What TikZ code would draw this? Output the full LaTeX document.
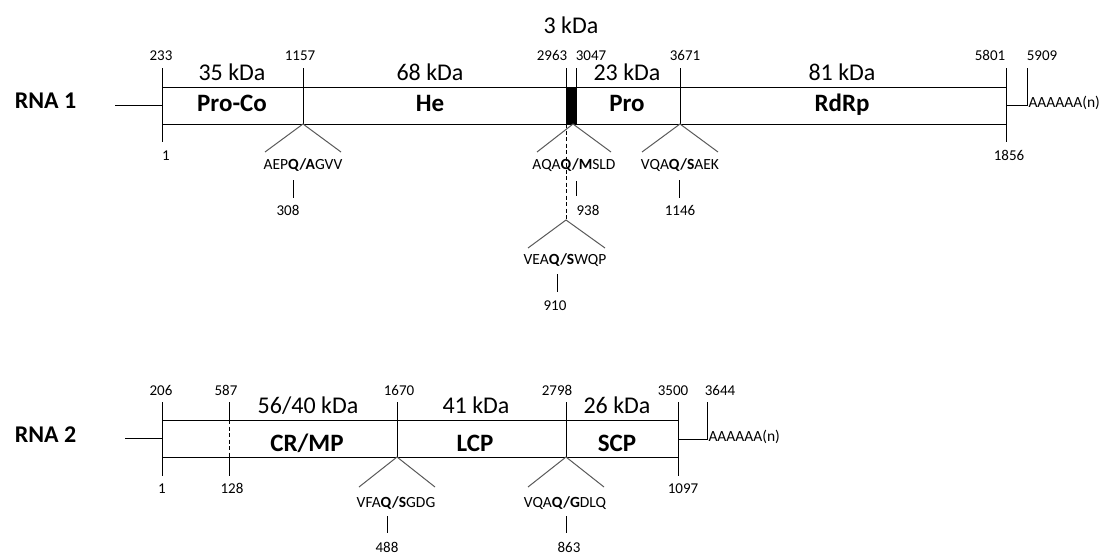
\documentclass[tikz,border=0pt]{standalone}
\usepackage{fontspec}
\setmainfont{Carlito}
\usetikzlibrary{positioning}

\begin{document}
\begin{tikzpicture}[x=1pt, y=-1pt, line width=1pt,
    num/.style={anchor=base, inner sep=0.5pt, font=\fontsize{15}{17}\selectfont},
    kda/.style={anchor=base, inner sep=0pt, font=\fontsize{24}{28}\selectfont},
    prot/.style={anchor=base, font=\fontsize{25}{28}\selectfont\bfseries},
    rna/.style={anchor=base west, font=\fontsize{24}{28}\selectfont\bfseries},
    site/.style={anchor=base, inner sep=1pt, font=\fontsize{15.5}{18}\selectfont},
    arm/.style={gray!70!black},
    cut/.style={dash pattern=on 4pt off 2.5pt}]

\useasboundingbox (0,0) rectangle (1107,554);

%%%%%%%%%% RNA 1 %%%%%%%%%%

% Label and 5' end
\node[rna] (rna1) at (11,108) {RNA 1};
\draw (115,105) -- (162,105);

% Draw the box
\draw (162,87) rectangle (1006,124);
\fill (566,87) rectangle (576,124);

% Start and end ticks
\draw (162,68) -- (162,142);
\draw (1006,68) -- (1006,142);

% Inner ticks
\foreach \x in {303, 566, 576, 680}
{
    \draw (\x,68) -- (\x,124);
}

% Positions on top
\foreach \x/\label in {161/233, 300/1157, 552/2963, 591/3047, 685/3671, 990/5801, 1042/5909}
{
    \node[num] (a\label) at (\x,60.5) {\label};
}

% Positions below
\node[num] (a1) at (166,160) {1};
\node[num] (a1856) at (1009,160) {1856};

% Poly-A tail
\draw (1006,105) -- (1027,105) -- (1027,68);
\node[site, anchor=base west] (polyA1) at (1027,107.5) {AAAAAA(n)};

% Proteins and sizes
\foreach \x/\kda/\name/\id in {232/35/Pro-Co/proco, 430/68/He/he, 627/23/Pro/pro, 842/81/RdRp/rdrp}
{
    \node[kda] (k\id) at (\x,80) {\kda{} kDa};
    \node[prot] (\id) at (\x,111) {\name};
}
\node[kda] (kvpg) at (571,33) {3 kDa};

% Cleavage sites (apex, stem, number)
\foreach \x/\sx/\nx/\pre/\c/\post/\num in {303/293/288/AEP/A/GVV/308, 680/679/680/VQA/S/AEK/1146}
{
    \draw[arm] (\x-38,152) -- (\x,124) -- (\x+38,152);
    \node[site] (s\num) at (\x,169.5) {\pre\textbf{Q/\c}\post};
    \draw (\sx,180) -- (\sx,198);
    \node[num] (n\num) at (\nx,215) {\num};
}

% Sites round the 3 kDa part
\draw[arm] (537,152) -- (573,124) -- (611,152);
\node[site] (s938) at (574,169.5) {AQA\textbf{Q/M}SLD};
\draw (576,181) -- (576,196);
\node[num] (n938) at (588,215) {938};

\draw[cut] (566,124) -- (566,220);
\draw[arm] (528,248) -- (566,220) -- (605,248);
\node[site] (s910) at (565,264) {VEA\textbf{Q/S}WQP};
\draw (557,274) -- (557,292);
\node[num] (n910) at (555,310) {910};

%%%%%%%%%% RNA 2 %%%%%%%%%%

% Label and 5' end
\node[rna] (rna2) at (11,442) {RNA 2};
\draw (125,438) -- (162,438);

% Draw the box
\draw (162,420) rectangle (678,457);

% Start and end ticks
\draw (162,402) -- (162,476);
\draw (678,402) -- (678,476);

% Dashed start of MP
\draw (229,402) -- (229,420);
\draw[cut] (229,420) -- (229,457);
\draw (229,457) -- (229,476);

% Inner ticks
\foreach \x in {397, 566}
{
    \draw (\x,402) -- (\x,457);
}

% Positions on top
\foreach \x/\label in {161/206, 226/587, 399/1670, 557/2798, 673/3500, 720/3644}
{
    \node[num] (b\label) at (\x,395) {\label};
}

% Positions below
\node[num] (b1) at (162,493) {1};
\node[num] (b128) at (232,493) {128};
\node[num] (b1097) at (683,493) {1097};

% Poly-A tail
\draw (678,439) -- (707,439) -- (707,402);
\node[site, anchor=base west] (polyA2) at (707,441.5) {AAAAAA(n)};

% Proteins and sizes
\node[prot] (crmp) at (307,451) {CR/MP};
\node[prot] (lcp) at (475,451) {LCP};
\node[prot] (scp) at (617,451) {SCP};
\node[kda] (kcrmp) at (308,413) {56/40 kDa};
\node[kda] (klcp) at (476,413) {41 kDa};
\node[kda] (kscp) at (617,413) {26 kDa};

% Cleavage sites (apex, stem, number)
\foreach \x/\sx/\nx/\pre/\c/\post/\num in {397/387/387/VFA/S/GDG/488, 566/566/569/VQA/G/DLQ/863}
{
    \draw[arm] (\x-38,487) -- (\x,457) -- (\x+38,487);
    \node[site] (s\num) at (\x-1,507) {\pre\textbf{Q/\c}\post};
    \draw (\sx,516) -- (\sx,533);
    \node[num] (n\num) at (\nx,552) {\num};
}

\end{tikzpicture}
\end{document}
